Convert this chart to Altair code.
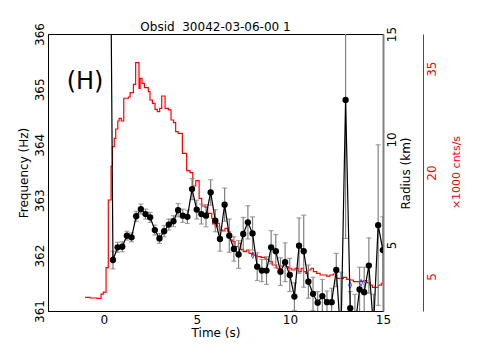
import altair as alt
import pandas as pd

# ---------------- data ----------------
time_s = [0.24, 0.49, 0.74, 0.99, 1.24, 1.49, 1.74, 1.99, 2.24, 2.49, 2.74,
          2.99, 3.24, 3.49, 3.74, 3.99, 4.24, 4.49, 4.74, 4.99, 5.24,
          5.49, 5.74, 5.99, 6.24, 6.49, 6.74, 6.99, 7.24, 7.49, 7.74,
          7.99, 8.24, 8.49, 8.74, 8.99, 9.24, 9.49, 9.74, 9.99, 10.24,
          10.49, 10.74, 10.99, 11.24, 11.49, 11.74, 11.99, 12.24, 12.49, 12.74,
          12.99, 13.24, 13.49, 13.74, 13.99, 14.24, 14.49, 14.74, 14.99]
freq_hz = [373.2, 361.92, 362.15, 362.16, 362.36, 362.33, 362.71, 362.84, 362.75, 362.69, 362.46,
           362.31, 362.44, 362.56, 362.62, 362.82, 362.72, 362.70, 363.20, 362.83, 362.75,
           362.72, 363.14, 362.63, 362.30, 362.92, 362.36, 362.12, 362.02, 362.39, 362.60,
           362.40, 361.80, 361.73, 361.73, 362.15, 362.08, 361.71, 361.88, 361.65, 361.26,
           362.18, 362.08, 361.53, 361.31, 361.15, 361.27, 361.16, 361.16, 361.74, 360.50,
           364.81, 361.05, 360.70, 361.39, 361.34, 361.82, 360.70, 362.55, 362.10]
freq_err = [0.5, 0.16, 0.09, 0.09, 0.08, 0.08, 0.09, 0.09, 0.09, 0.09, 0.09,
            0.09, 0.10, 0.10, 0.10, 0.12, 0.12, 0.12, 0.19, 0.17, 0.18,
            0.20, 0.23, 0.20, 0.22, 0.30, 0.30, 0.22, 0.25, 0.30, 0.30,
            0.30, 0.25, 0.20, 0.25, 0.30, 0.30, 0.25, 0.35, 0.30, 0.25,
            0.50, 0.65, 0.30, 0.30, 0.20, 0.30, 0.20, 0.25, 0.30, 1.20,
            2.50, 0.30, 0.60, 0.40, 0.45, 0.50, 0.60, 1.45, 0.60]

rate_t = [-1.01, -0.74, -0.37, -0.15, -0.03, 0.12, 0.24, 0.39, 0.46, 0.56, 0.64,
          0.75, 0.82, 0.94, 1.07, 1.32, 1.41, 1.59, 1.71, 1.89, 1.95,
          2.05, 2.18, 2.39, 2.48, 2.61, 2.75, 2.87, 3.00, 3.11, 3.29,
          3.47, 3.61, 3.75, 3.86, 3.99, 4.22, 4.45, 4.63, 4.78, 4.94,
          5.12, 5.26, 5.44, 5.58, 5.80, 5.85, 5.98, 6.10, 6.21, 6.39,
          6.51, 6.66, 6.78, 6.93, 7.05, 7.23, 7.36, 7.50, 7.68, 7.80,
          7.98, 8.22, 8.45, 8.66, 8.88, 9.05, 9.29, 9.47, 9.65, 9.77,
          9.91, 10.10, 10.27, 10.45, 10.60, 10.72, 10.85, 10.99, 11.13, 11.26,
          11.44, 11.62, 11.98, 12.15, 12.33, 12.51, 12.87, 13.05, 13.23, 13.41,
          13.94, 14.13, 14.30, 14.43, 14.75, 14.93, 15.10]
rate_k = [1.98, 1.88, 1.81, 2.45, 2.74, 6.25, 16.03, 20.94, 23.73, 24.94, 26.28,
          27.44, 27.83, 27.44, 30.72, 30.90, 31.52, 32.74, 35.86, 32.16, 33.60,
          32.88, 32.25, 31.67, 30.47, 29.99, 29.13, 28.78, 29.27, 31.05, 29.27,
          29.03, 27.58, 27.19, 25.89, 25.66, 22.77, 20.26, 19.97, 18.05, 18.82,
          16.27, 15.16, 14.97, 14.11, 13.39, 12.56, 12.27, 12.66, 11.70, 11.55,
          11.94, 11.45, 10.25, 10.01, 9.29, 9.78, 8.91, 8.56, 8.81, 8.33,
          8.09, 7.84, 7.75, 7.47, 7.12, 6.64, 6.17, 6.50, 6.89, 6.40,
          6.17, 5.92, 6.17, 5.68, 6.17, 5.68, 5.44, 5.92, 6.17, 5.68,
          5.44, 5.20, 5.05, 5.20, 5.34, 4.72, 4.87, 4.58, 4.48, 4.23,
          4.38, 4.09, 3.75, 3.42, 3.75, 4.00, 4.00]

blue_t = [8.00, 13.23, 13.82]
blue_f = [362.01, 361.47, 361.51]

time_ticks = [0, 5, 10, 15]
freq_ticks = [361, 362, 363, 364, 365, 366]
radius_ticks = [5, 10, 15]
rate_ticks = [5, 20, 35]

panel_label = ["(H)"]
panel_t = [-1.01]
panel_f = [365.13]

title_text = "Obsid\u00a0 30042-03-06-00 1"

# ---------------- frames ----------------
freq_df = pd.DataFrame({
    "t": time_s,
    "f": freq_hz,
    "lo": [f - e for f, e in zip(freq_hz, freq_err)],
    "hi": [f + e for f, e in zip(freq_hz, freq_err)],
})
pts_df = freq_df.iloc[1:]
rate_df = pd.DataFrame({"t": rate_t, "v": rate_k})
blue_df = pd.DataFrame({"t": blue_t, "f": blue_f})
label_df = pd.DataFrame({"t": panel_t, "f": panel_f, "txt": panel_label})
radius_df = pd.DataFrame({"r": radius_ticks})

FONT = "DejaVu Sans"

x_enc = alt.X("t:Q",
              scale=alt.Scale(domain=[-3, 15], nice=False, zero=False),
              axis=alt.Axis(values=time_ticks, title="Time (s)", labelPadding=3,
                            labelFontSize=12, titleFontSize=12, labelFlush=False,
                            titleY=21, titleBaseline="middle", titleColor="black"))

freq_scale = alt.Scale(domain=[361, 366], nice=False, zero=False)
freq_axis = alt.Axis(orient="left", values=freq_ticks, format="d",
                     labelAngle=270, labelAlign="center", labelBaseline="bottom",
                     labelPadding=2, labelFontSize=12, labelFlush=False,
                     title="Frequency (Hz)", titleFontSize=12, titleAngle=270,
                     titleX=-25, titleY=138.5, titleAlign="center",
                     titleBaseline="middle", titleColor="black", labelColor="black",
                     domainColor="black")


def fy(field):
    return alt.Y(f"{field}:Q", scale=freq_scale, axis=freq_axis)


err_rule = alt.Chart(freq_df).mark_rule(color="#808080", strokeWidth=1.2, clip=True).encode(
    x=x_enc, y=fy("lo"), y2="hi:Q")
cap_lo = alt.Chart(freq_df).mark_tick(orient="horizontal", color="#808080", size=5,
                                      thickness=1.2, clip=True).encode(x=x_enc, y=fy("lo"))
cap_hi = alt.Chart(freq_df).mark_tick(orient="horizontal", color="#808080", size=5,
                                      thickness=1.2, clip=True).encode(x=x_enc, y=fy("hi"))
line = alt.Chart(freq_df).mark_line(color="black", strokeWidth=1.2, clip=True).encode(
    x=x_enc, y=fy("f"))
points = alt.Chart(pts_df).mark_point(filled=True, color="black", size=40, opacity=1,
                                      clip=True).encode(x=x_enc, y=fy("f"))
blue = alt.Chart(blue_df).mark_point(shape="M0,-1L0.45,0L0,1L-0.45,0Z", filled=False,
                                     color="blue", size=45, strokeWidth=1, clip=True).encode(
    x=x_enc, y=fy("f"))
label = alt.Chart(label_df).mark_text(font=FONT, fontSize=24, color="black",
                                      align="center", baseline="middle").encode(
    x=x_enc, y=fy("f"), text="txt:N")

freq_layer = alt.layer(err_rule, cap_lo, cap_hi, line, points, blue, label)

rate_layer = alt.Chart(rate_df).mark_line(interpolate="step-after", color="red",
                                          strokeWidth=1.2, clip=True).encode(
    x=x_enc,
    y=alt.Y("v:Q", scale=alt.Scale(domain=[0, 40], nice=False, zero=False),
            axis=alt.Axis(orient="right", offset=40, values=rate_ticks,
                          labelAngle=270, labelAlign="center", labelBaseline="top",
                          labelPadding=3, labelFontSize=12, labelColor="red",
                          labelFlush=False,
                          domainColor="red", title="\u00d71000 cnts/s",
                          titleColor="red", titleFontSize=11, titleAngle=270,
                          titleX=33, titleY=138, titleAlign="center",
                          titleBaseline="middle")))

radius_layer = alt.Chart(radius_df).mark_point(opacity=0).encode(
    y=alt.Y("r:Q", scale=alt.Scale(domain=[1.87, 15], nice=False, zero=False),
            axis=alt.Axis(orient="right", values=radius_ticks,
                          labelAngle=270, labelAlign="center", labelBaseline="top",
                          labelPadding=3, labelFontSize=12, labelFlush=False,
                          labelColor="black",
                          domainColor="#808080", domainWidth=2,
                          title="Radius (km)", titleFontSize=12, titleAngle=270,
                          titleX=22, titleY=139, titleAlign="center",
                          titleBaseline="middle", titleColor="black")))

chart = alt.layer(rate_layer, freq_layer, radius_layer).resolve_scale(
    y="independent"
).properties(
    width=335, height=277,
    title=alt.TitleParams(text=title_text, font=FONT, fontSize=12, fontWeight="normal",
                          anchor="middle", offset=3, dy=14, color="black", frame="group"),
    autosize=alt.AutoSizeParams(type="none"),
    padding={"left": 40, "top": 26, "right": 86, "bottom": 30},
).configure_axis(
    labelFont=FONT, titleFont=FONT, titleFontWeight="normal", grid=False, ticks=False,
    domainColor="black", labelColor="black", titleColor="black"
).configure_view(
    stroke="black", strokeWidth=1
)

chart.save("out.html", embed_options={"renderer": "svg", "actions": False})
